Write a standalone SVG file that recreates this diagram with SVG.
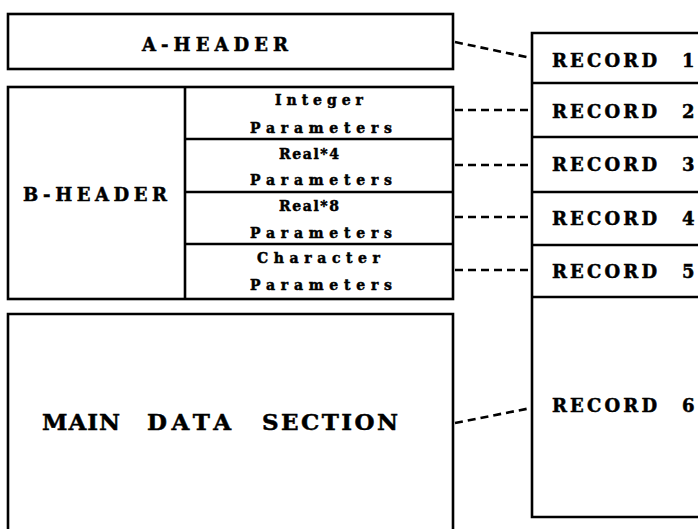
<svg xmlns="http://www.w3.org/2000/svg" width="698" height="529" viewBox="0 0 698 529">
<style>
  .box { fill: #ffffff; stroke: #000000; stroke-width: 2.6; }
  .ln { fill: none; stroke: #000000; stroke-width: 2.6; }
  .dash { fill: none; stroke: #000000; stroke-width: 2.6; stroke-dasharray: 8 5; }
  .t { font-family: "DejaVu Serif", "Liberation Serif", serif; font-weight: bold; fill: #000000; stroke: #000000; stroke-width: 0.5; }
  .big { font-size: 18px; }
  .huge { font-size: 23px; }
  .small { font-size: 14px; }
</style>
<rect width="698" height="529" fill="#ffffff"/>

<g id="a-header">
  <rect class="box" x="8" y="14" width="445" height="55"/>
  <text class="t big" x="142" y="51" textLength="146" lengthAdjust="spacing">A-HEADER</text>
</g>

<g id="b-header">
  <rect class="box" x="8" y="87" width="445" height="212"/>
  <line class="ln" x1="185" y1="87" x2="185" y2="299"/>
  <text class="t big" x="23" y="201" textLength="144" lengthAdjust="spacing">B-HEADER</text>
</g>

<g id="integer-parameters">
  <text class="t small" x="275" y="105" textLength="88" lengthAdjust="spacing">Integer</text>
  <text class="t small" x="250" y="133" textLength="142" lengthAdjust="spacing">Parameters</text>
</g>
<g id="real4-parameters">
  <line class="ln" x1="185" y1="139" x2="453" y2="139"/>
  <text class="t small" x="279" y="159" textLength="60" lengthAdjust="spacing">Real*4</text>
  <text class="t small" x="250" y="185" textLength="142" lengthAdjust="spacing">Parameters</text>
</g>
<g id="real8-parameters">
  <line class="ln" x1="185" y1="192" x2="453" y2="192"/>
  <text class="t small" x="279" y="211" textLength="60" lengthAdjust="spacing">Real*8</text>
  <text class="t small" x="250" y="238" textLength="142" lengthAdjust="spacing">Parameters</text>
</g>
<g id="character-parameters">
  <line class="ln" x1="185" y1="244" x2="453" y2="244"/>
  <text class="t small" x="257" y="263" textLength="123" lengthAdjust="spacing">Character</text>
  <text class="t small" x="250" y="290" textLength="142" lengthAdjust="spacing">Parameters</text>
</g>

<g id="main-data-section">
  <path class="box" d="M8,545 V314 H453 V545"/>
  <text class="t huge" x="42" y="430" textLength="78" lengthAdjust="spacing">MAIN</text>
  <text class="t huge" x="147" y="430" textLength="84" lengthAdjust="spacing">DATA</text>
  <text class="t huge" x="262" y="430" textLength="136" lengthAdjust="spacing">SECTION</text>
</g>

<g id="records">
  <path class="box" d="M705,33 H532 V517 H705"/>
</g>
<g id="record-1">
  <text class="t big" x="552" y="67" textLength="105" lengthAdjust="spacing">RECORD</text>
  <text class="t big" x="682" y="67">1</text>
</g>
<g id="record-2">
  <line class="ln" x1="532" y1="83" x2="705" y2="83"/>
  <text class="t big" x="552" y="118" textLength="105" lengthAdjust="spacing">RECORD</text>
  <text class="t big" x="682" y="118">2</text>
</g>
<g id="record-3">
  <line class="ln" x1="532" y1="137" x2="705" y2="137"/>
  <text class="t big" x="552" y="171" textLength="105" lengthAdjust="spacing">RECORD</text>
  <text class="t big" x="682" y="171">3</text>
</g>
<g id="record-4">
  <line class="ln" x1="532" y1="192" x2="705" y2="192"/>
  <text class="t big" x="552" y="225" textLength="105" lengthAdjust="spacing">RECORD</text>
  <text class="t big" x="682" y="225">4</text>
</g>
<g id="record-5">
  <line class="ln" x1="532" y1="245" x2="705" y2="245"/>
  <text class="t big" x="552" y="278" textLength="105" lengthAdjust="spacing">RECORD</text>
  <text class="t big" x="682" y="278">5</text>
</g>
<g id="record-6">
  <line class="ln" x1="532" y1="297" x2="705" y2="297"/>
  <text class="t big" x="552" y="412" textLength="105" lengthAdjust="spacing">RECORD</text>
  <text class="t big" x="682" y="412">6</text>
</g>

<g id="connectors">
  <line class="dash" x1="455" y1="42" x2="531" y2="58"/>
  <line class="dash" x1="455" y1="110" x2="531" y2="110"/>
  <line class="dash" x1="455" y1="165" x2="531" y2="165"/>
  <line class="dash" x1="455" y1="217" x2="531" y2="217"/>
  <line class="dash" x1="455" y1="270" x2="531" y2="270"/>
  <line class="dash" x1="455" y1="423" x2="531" y2="408"/>
</g>
</svg>
